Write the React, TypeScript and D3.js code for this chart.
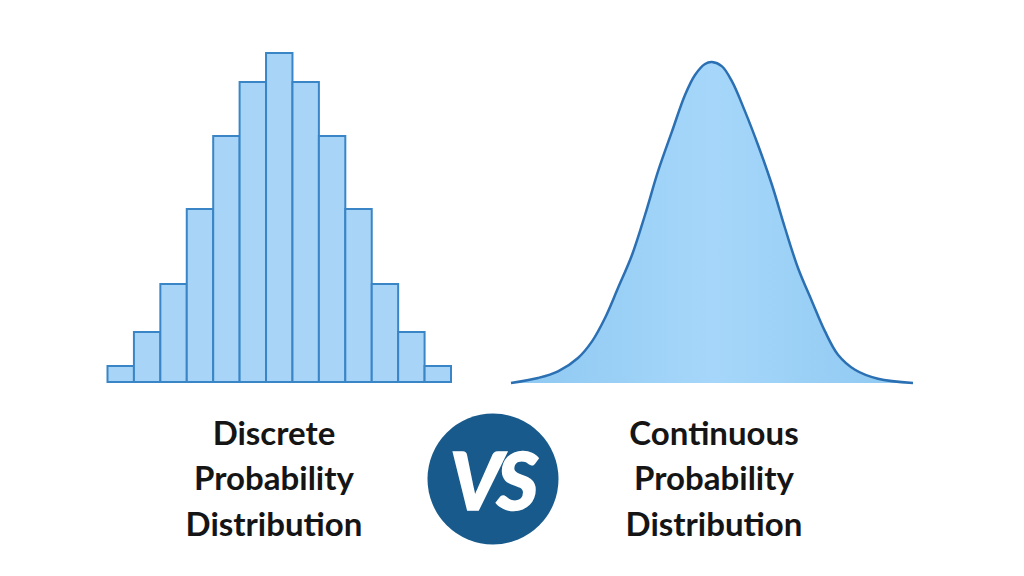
import React from "react";
import * as d3 from "d3";

// Discrete distribution: 13 bars, relative heights
const barCategories = ["1", "2", "3", "4", "5", "6", "7", "8", "9", "10", "11", "12", "13"];
const barValues = [16, 50, 98, 173, 246, 300, 329, 300, 246, 173, 98, 50, 16];

// Continuous distribution: points (x offset, height)
const curveX = [0, 27, 47, 67, 81, 94, 107, 121, 134, 147, 161, 174, 184, 194, 201, 211, 221, 234, 247, 261, 274, 287, 301, 314, 327, 344, 367, 402];
const curveY = [0, 5, 11.6, 25, 41.6, 65, 95, 128, 168, 211.6, 251.6, 288, 308, 319, 321, 316.6, 301.6, 271.6, 238, 198, 155, 115, 81.6, 51.6, 28.3, 13.3, 4.3, 0];

const leftLabel = ["Discrete", "Probability", "Distribution"];
const rightLabel = ["Continuous", "Probability", "Distribution"];
const vsText = "VS";

export default function App() {
  const W = 1024, H = 576;

  // bars
  const xBar = d3.scaleBand<string>().domain(barCategories).range([107.5, 451]).padding(0);
  const yBar = d3.scaleLinear().domain([0, 329]).range([382, 53]);

  // curve
  const xC = d3.scaleLinear().domain([0, 402]).range([511, 913]);
  const yC = d3.scaleLinear().domain([0, 321]).range([383, 62]);
  const pts: [number, number][] = curveX.map((x, i) => [x, curveY[i]]);
  const curve = d3.curveCatmullRom.alpha(0.5);
  const line = d3.line<[number, number]>().x(d => xC(d[0])).y(d => yC(d[1])).curve(curve);
  const area = d3.area<[number, number]>().x(d => xC(d[0])).y0(yC(0)).y1(d => yC(d[1])).curve(curve);

  const textStyle: React.CSSProperties = { fontFamily: "Lato, 'Open Sans', sans-serif", fontWeight: 700, fontSize: 33, fill: "#151515" };

  return (
    <svg width={W} height={H} viewBox={`0 0 ${W} ${H}`} style={{ position: "absolute", left: 0, top: 0, background: "#ffffff" }}>
      <defs>
        <linearGradient id="bellFill" x1="0" x2="1" y1="0" y2="0">
          <stop offset="0%" stopColor="#8ec8f1" />
          <stop offset="50%" stopColor="#a6d7fa" />
          <stop offset="100%" stopColor="#8ec8f1" />
        </linearGradient>
      </defs>
      <rect x={0} y={0} width={W} height={H} fill="#ffffff" />
      {/* Bars */}
      {barValues.map((v, i) => (
        <rect
          key={i}
          x={xBar(barCategories[i])!}
          y={yBar(v)}
          width={xBar.bandwidth()}
          height={yBar(0) - yBar(v)}
          fill="#a8d5f7"
          stroke="#3a85c6"
          strokeWidth={2}
        />
      ))}
      {/* Bell curve */}
      <path d={area(pts) || ""} fill="url(#bellFill)" />
      <path d={line(pts) || ""} fill="none" stroke="#2b70b3" strokeWidth={2.5} />

      {/* Labels */}
      {leftLabel.map((t, i) => (
        <text key={"l" + i} x={274} y={444.5 + i * 45.5} textAnchor="middle" style={textStyle}>{t}</text>
      ))}
      {rightLabel.map((t, i) => (
        <text key={"r" + i} x={714} y={444.5 + i * 45.5} textAnchor="middle" style={textStyle}>{t}</text>
      ))}

      {/* VS badge */}
      <circle cx={493} cy={479} r={65.5} fill="#175a8b" />
      <text
        x={492}
        y={510}
        textAnchor="middle"
        style={{ fontFamily: "Lato, 'Open Sans', sans-serif", fontWeight: 900, fontStyle: "italic", fontSize: 80, fill: "#ffffff", letterSpacing: -4, stroke: "#ffffff", strokeWidth: 1.5 }}
      >
        {vsText}
      </text>
    </svg>
  );
}
